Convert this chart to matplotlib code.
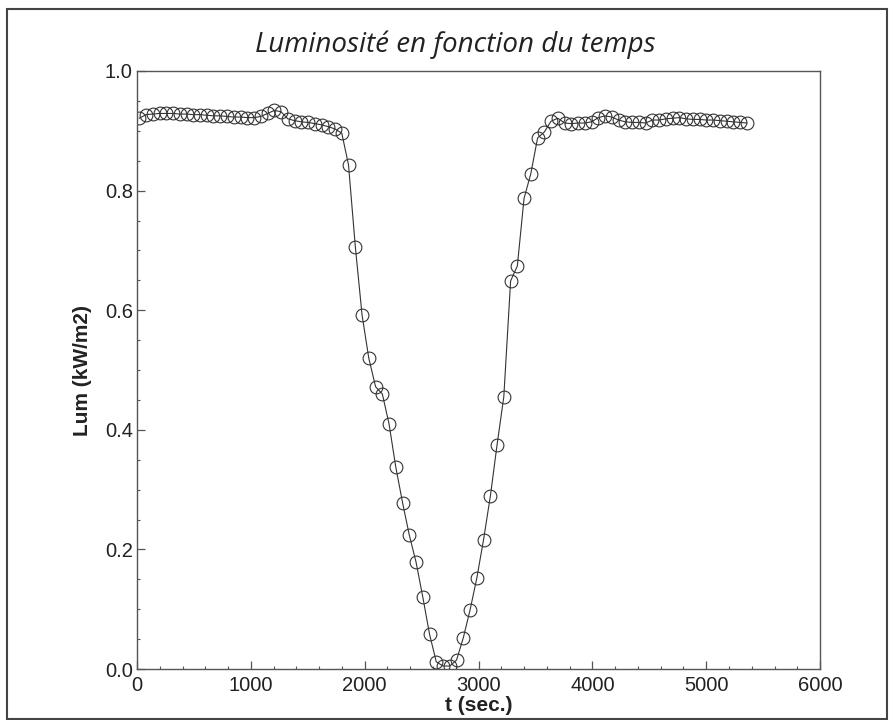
import matplotlib
matplotlib.use("Agg")
import matplotlib.pyplot as plt
from matplotlib.patches import Rectangle
from matplotlib.ticker import MultipleLocator, FormatStrFormatter

# Data
t_sec = [20, 79, 139, 198, 257, 317, 376, 435, 494, 554,
         613, 672, 732, 791, 850, 910, 969, 1028, 1087, 1147,
         1206, 1265, 1325, 1384, 1443, 1503, 1562, 1621, 1680, 1740,
         1799, 1858, 1918, 1977, 2036, 2096, 2155, 2214, 2273, 2333,
         2392, 2451, 2511, 2570, 2629, 2689, 2748, 2807, 2866, 2926,
         2985, 3044, 3104, 3163, 3222, 3282, 3341, 3400, 3459, 3519,
         3578, 3637, 3697, 3756, 3815, 3875, 3934, 3993, 4052, 4112,
         4171, 4230, 4290, 4349, 4408, 4468, 4527, 4586, 4645, 4705,
         4764, 4823, 4883, 4942, 5001, 5061, 5120, 5179, 5238, 5298,
         5357]

lum = [0.921, 0.927, 0.928, 0.929, 0.929, 0.929, 0.928, 0.928, 0.927, 0.927,
       0.926, 0.925, 0.925, 0.924, 0.923, 0.923, 0.922, 0.922, 0.924, 0.929,
       0.934, 0.932, 0.920, 0.917, 0.915, 0.914, 0.912, 0.910, 0.907, 0.903,
       0.896, 0.843, 0.706, 0.592, 0.520, 0.472, 0.460, 0.410, 0.338, 0.278,
       0.224, 0.179, 0.120, 0.058, 0.012, 0.005, 0.005, 0.015, 0.052, 0.099,
       0.152, 0.216, 0.289, 0.375, 0.455, 0.649, 0.674, 0.787, 0.828, 0.888,
       0.898, 0.916, 0.921, 0.913, 0.912, 0.913, 0.913, 0.915, 0.922, 0.925,
       0.923, 0.918, 0.915, 0.914, 0.914, 0.913, 0.918, 0.918, 0.920, 0.921,
       0.922, 0.920, 0.919, 0.919, 0.918, 0.918, 0.917, 0.916, 0.915, 0.914,
       0.913]

title = "Luminosité en fonction du temps"
xlabel = "t (sec.)"
ylabel = "Lum (kW/m2)"

plt.rcParams['font.family'] = ['Liberation Sans', 'DejaVu Sans']

fig = plt.figure(figsize=(8.93, 7.2), dpi=100)
ax = fig.add_axes([0.1534, 0.0708, 0.7649, 0.8306])

ax.plot(t_sec, lum, color='#333333', linewidth=0.8,
        marker='o', markersize=9.2, markerfacecolor='none',
        markeredgecolor='#333333', markeredgewidth=0.8)

ax.set_xlim(0, 6000)
ax.set_ylim(0, 1.0)
ax.xaxis.set_major_locator(MultipleLocator(1000))
ax.xaxis.set_minor_locator(MultipleLocator(200))
ax.yaxis.set_major_locator(MultipleLocator(0.2))
ax.yaxis.set_minor_locator(MultipleLocator(0.05))
ax.yaxis.set_major_formatter(FormatStrFormatter('%.1f'))

ax.tick_params(which='both', direction='in', top=False, right=False,
               colors='#555555', labelcolor='#222222', labelsize=14.5)
ax.tick_params(which='major', length=6, width=0.9)
ax.tick_params(which='minor', length=2.3, width=0.8)
ax.tick_params(axis='x', pad=5)
ax.tick_params(axis='y', pad=3)

for side in ['left', 'bottom', 'top', 'right']:
    ax.spines[side].set_color('#555555')
    ax.spines[side].set_linewidth(1.0)

ax.set_xlabel(xlabel, fontsize=15, fontweight='bold', color='#222222', va='top')
ax.xaxis.set_label_coords(0.5, -0.045)
ax.set_ylabel(ylabel, fontsize=15, fontweight='bold', color='#222222', va='center')
ax.yaxis.set_label_coords(-0.08, 0.5)

fig.text(0.5095, 0.928, title, ha='center', va='baseline', fontsize=20,
         style='italic', family=['Open Sans', 'DejaVu Sans'], color='#222222')

# outer frame of the scanned figure
fig.patches.append(Rectangle((7 / 893, 1 / 720), 880 / 893, 710 / 720,
                             transform=fig.transFigure, fill=False,
                             edgecolor='#444444', linewidth=1.5))

fig.savefig('out.png', dpi=100)
